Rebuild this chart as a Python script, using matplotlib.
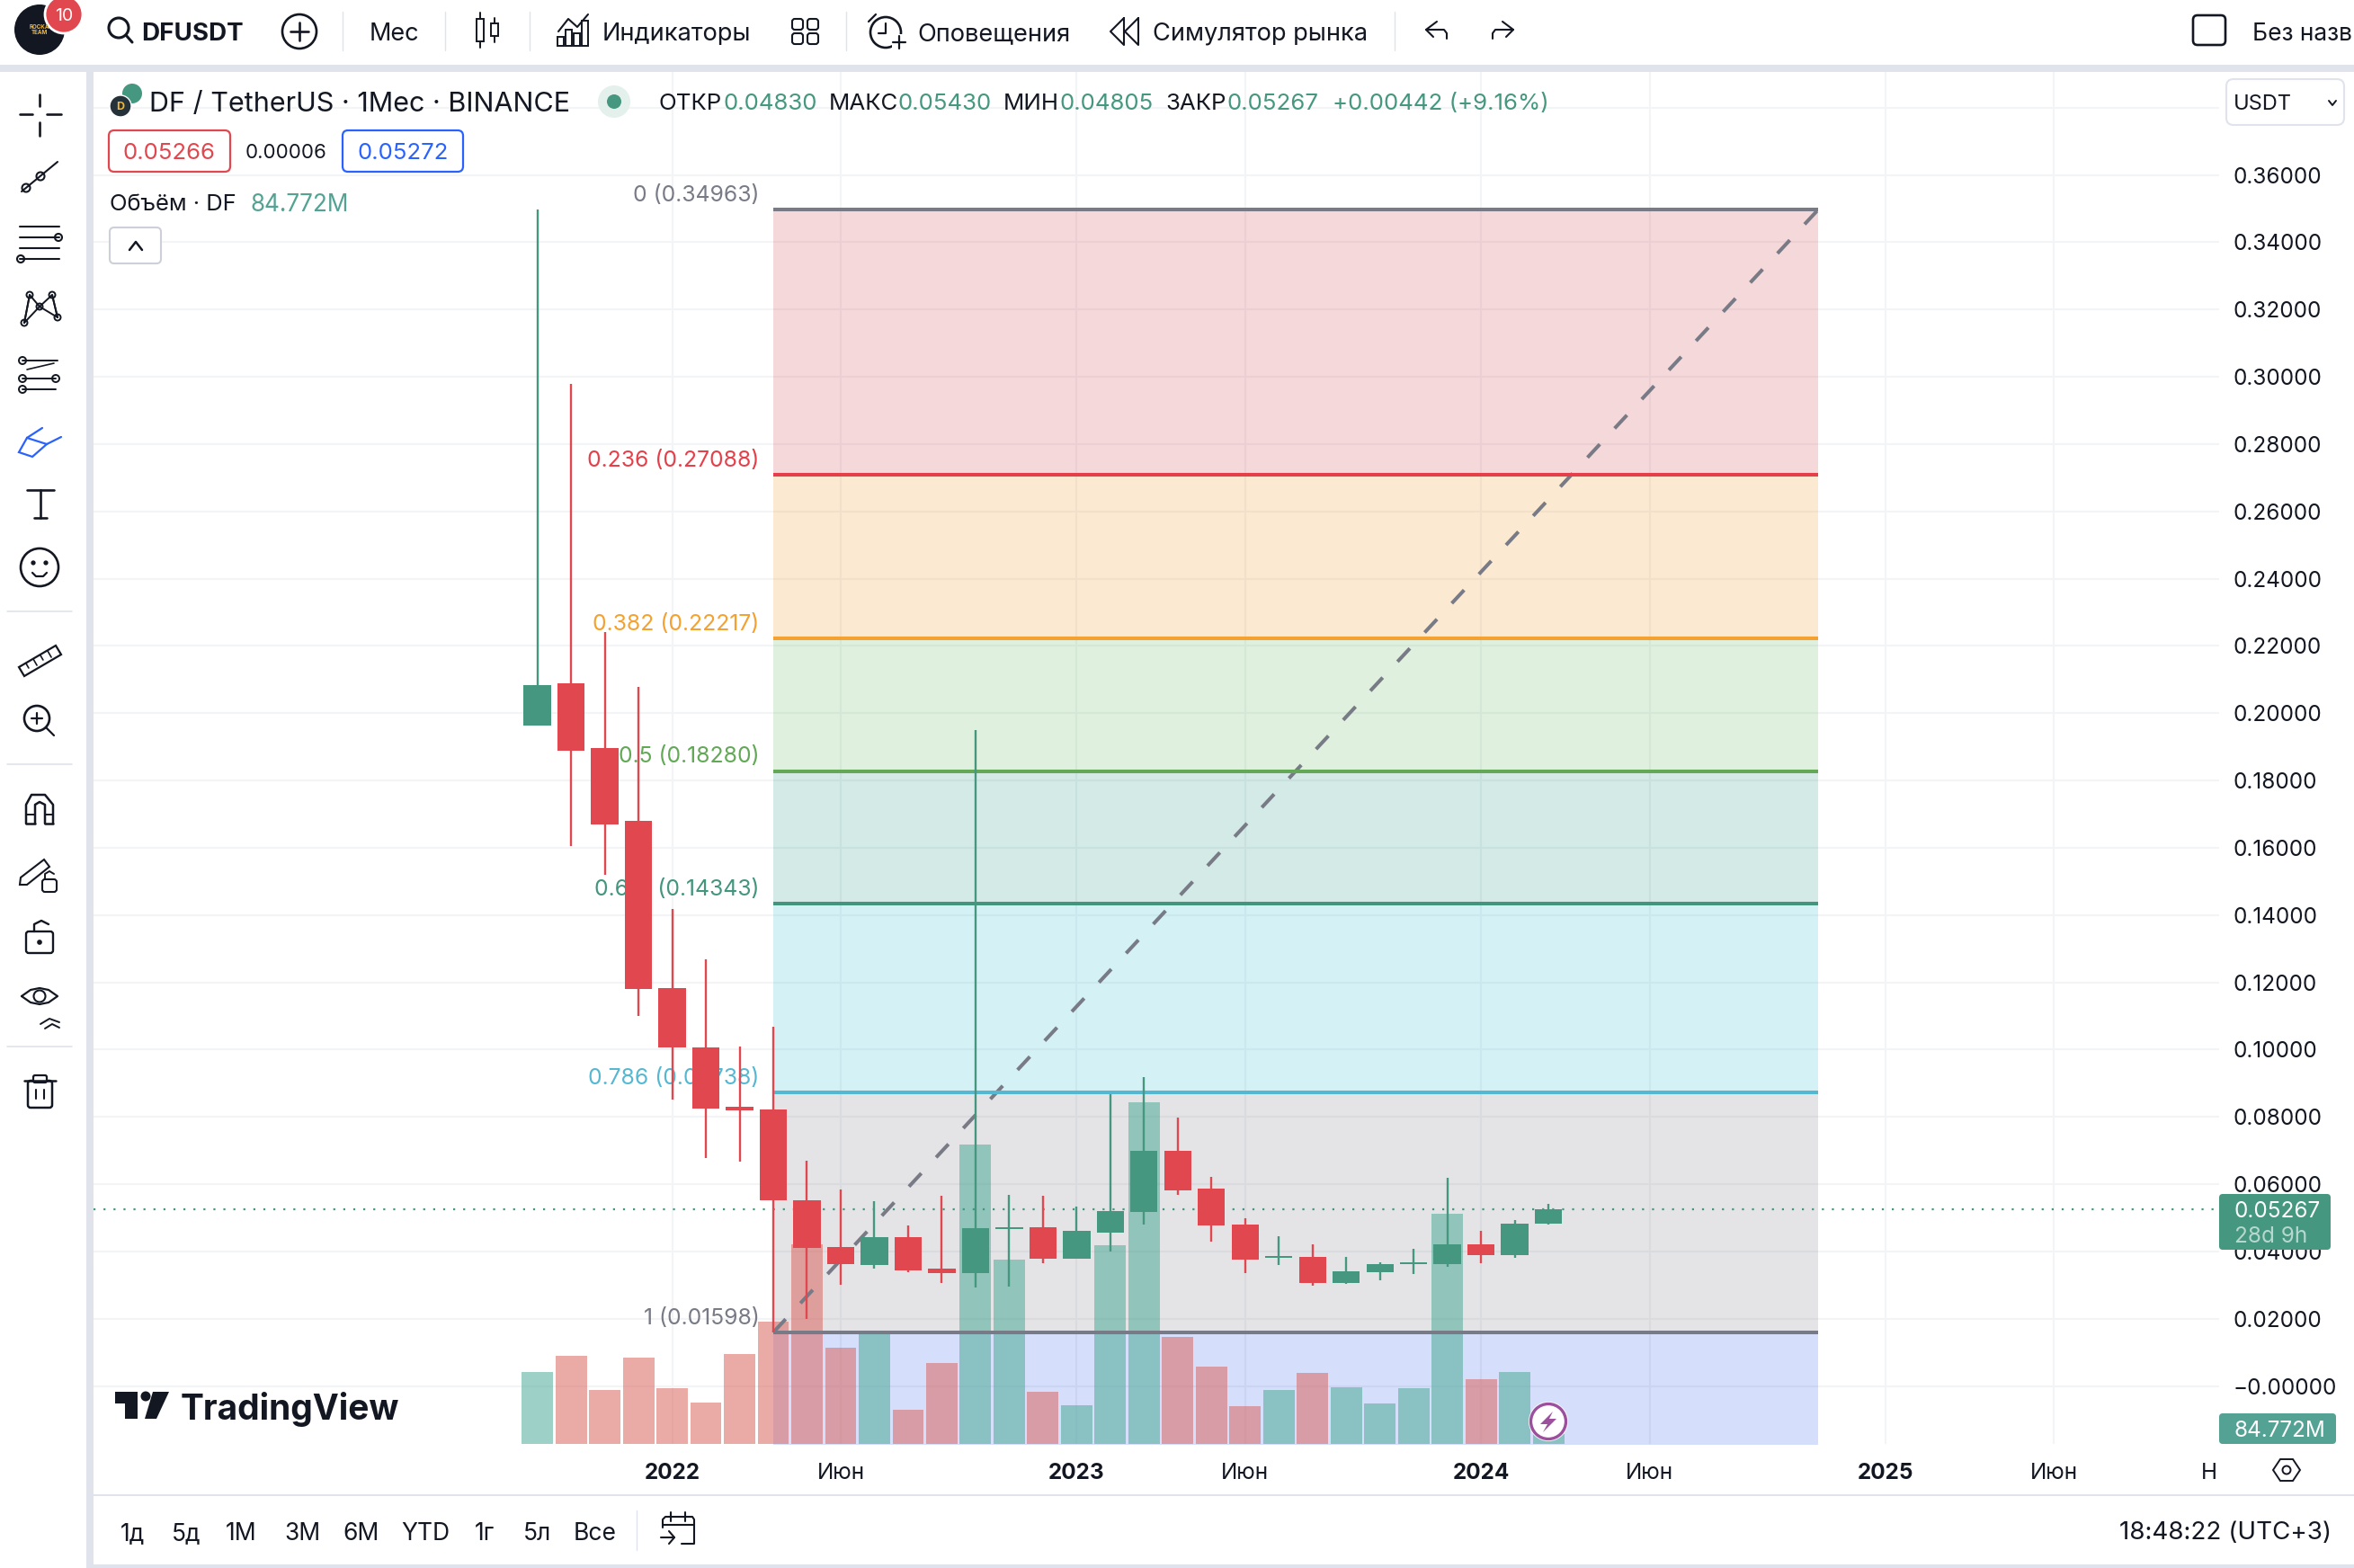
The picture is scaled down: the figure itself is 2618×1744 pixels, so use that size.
"""DFUSDT monthly chart with Fibonacci retracement, TradingView window."""
import matplotlib
matplotlib.use("Agg")
import matplotlib.pyplot as plt
from matplotlib.patches import Circle, FancyBboxPatch, Polygon, Rectangle

plt.rcParams["font.family"] = ["Inter", "DejaVu Sans"]

W, H = 2618, 1744
GREEN, RED = "#45977F", "#E0474F"
DARK, GREY = "#131722", "#787B86"

# monthly candles, first one is Sep 2021
opens = [.1964, .20891, .18967, .16803, .11831, .10068, .08304, .08223, .0553, .0414, .03613,
         .04434, .03493, .03359, .04669, .04728, .03787, .0457, .05177, .06994, .05872, .04803,
         .03814, .0384, .03073, .03386, .03627, .03627, .04215, .03894, .0483]
highs = [.34963, .29791, .22415, .20785, .14183, .12687, .10094, .10682, .067, .05845, .05497,
         .04776, .05658, .19502, .05685, .05658, .05337, .08686, .09186, .07983, .06219, .0499,
         .04455, .04215, .0384, .0368, .04081, .06192, .04616, .04936, .0543]
lows = [.1964, .16054, .15199, .11003, .08517, .0678, .06673, .01598, .02004, .02999, .03504,
        .03386, .03052, .02943, .02969, .03659, .03787, .04009, .04811, .05685, .04303, .03367,
        .03608, .02993, .03047, .03154, .03341, .03555, .03653, .03814, .04805]
closes = [.2084, .18887, .16695, .11805, .10068, .0825, .08197, .05524, .0411, .03627, .04434,
          .0344, .03359, .04701, .04733, .03787, .04616, .05203, .06994, .05826, .04784, .03768,
          .03867, .03073, .03413, .03627, .0368, .04215, .03894, .04829, .05267]
volumes_m = [616, 755, 462, 739, 477, 354, 770, 1047, 1709, 824, 947, 293, 693, 2564, 1579, 447,
             331, 1702, 2926, 916, 662, 323, 462, 608, 485, 347, 477, 1971, 554, 616, 84.772]

# fib levels: ratio, price, line colour, zone colour below the level
fib_ratios = ["0", "0.236", "0.382", "0.5", "0.618", "0.786", "1"]
fib_prices = [.34963, .27088, .22217, .18280, .14343, .08738, .01598]
fib_lines = [GREY, "#E5404A", "#F4A12F", "#62A857", "#43957E", "#55B8D0", GREY]
fib_zones = ["#CD3C46", "#F0911E", "#5FB45A", "#239682", "#28B9D2", GREY, "#2D5AE6"]
fib_floor = -0.19022
fib_start, fib_end = 7, 38

price_ticks = [i * 0.02 for i in range(20)]
time_ticks = [4, 9, 16, 21, 28, 33, 40, 45]
time_labels = ["2022", "Июн", "2023", "Июн", "2024", "Июн", "2025", "Июн"]

rect = [104 / W, 1 - 1606 / H, (2468 - 104) / W, (1606 - 80) / H]
xlim = (-13.17, 49.9)
ylim = (-0.01718, 0.3906)

fig = plt.figure(figsize=(W / 100, H / 100), dpi=100, facecolor="white")

# back layer: grid, zones, price and time scales
ax = fig.add_axes(rect, zorder=1)
ax.set_xlim(xlim); ax.set_ylim(ylim)
for s in ax.spines.values():
    s.set_visible(False)
ax.yaxis.tick_right()
ax.set_yticks(price_ticks)
ax.set_yticklabels(["−0.00000"] + [f"{v:.5f}" for v in price_ticks[1:19]] + [""])
ax.set_xticks(time_ticks)
ax.set_xticklabels(time_labels)
ax.tick_params(length=0, labelsize=17.5, labelcolor=DARK)
ax.tick_params(axis="y", pad=11)
ax.tick_params(axis="x", pad=15)
for lab in ax.get_xticklabels():
    if lab.get_text().startswith("20"):
        lab.set_fontweight("bold")
ax.grid(color="#F3F4F6", lw=1.5)
ax.set_axisbelow(True)
zone_edges = fib_prices + [fib_floor]
for i, col in enumerate(fib_zones):
    ax.fill_between([fib_start, fib_end], zone_edges[i + 1], zone_edges[i], color=col, alpha=0.2, lw=0)

# volume layer
axv = fig.add_axes(rect, zorder=2, sharex=ax)
axv.patch.set_alpha(0); axv.axis("off")
axv.set_ylim(0, 11750)
vol_cols = ["#4DAA97" if c >= o else "#DA665F" for o, c in zip(opens, closes)]
axv.bar(range(len(volumes_m)), volumes_m, width=0.93, color=vol_cols, alpha=0.55, lw=0)

# front layer: fib lines, labels, candles
axc = fig.add_axes(rect, zorder=3, sharex=ax, sharey=ax)
axc.patch.set_alpha(0); axc.axis("off")
axc.plot([fib_start, fib_end], [fib_prices[-1], fib_prices[0]], color=GREY, lw=2.9,
         ls=(0, (5, 6)), zorder=1)
for r, p, c in zip(fib_ratios, fib_prices, fib_lines):
    axc.hlines(p, fib_start, fib_end, color=c, lw=2.9, zorder=2)
    axc.annotate(f"{r} ({p:.5f})", (fib_start, p), xytext=(-11, 3), textcoords="offset points",
                 ha="right", va="bottom", color=c, fontsize=17.8, zorder=2)
axc.axhline(closes[-1], color=GREEN, lw=1.6, ls=(0, (1, 4)), zorder=3)
for i, (o, h, l, c) in enumerate(zip(opens, highs, lows, closes)):
    col = GREEN if c >= o else RED
    axc.vlines(i, l, h, color=col, lw=1.7, zorder=4)
    axc.bar(i, abs(c - o), bottom=min(o, c), width=0.81, color=col, lw=0, zorder=5)

# window chrome in pixel coordinates
ui = fig.add_axes([0, 0, 1, 1], zorder=10)
ui.set_xlim(0, W); ui.set_ylim(H, 0)
ui.axis("off")


def line(xs, ys, lw=1.9, color=DARK):
    ui.plot(xs, ys, color=color, lw=lw, solid_capstyle="round", solid_joinstyle="round")


def circ(x, y, r, lw=1.9, color=DARK, fill="white"):
    ui.add_patch(Circle((x, y), r, fc=fill, ec=color, lw=lw))


def box(x0, y0, x1, y1, fc="white", ec="none", lw=1.5, r=5):
    ui.add_patch(FancyBboxPatch((x0, y0), x1 - x0, y1 - y0, boxstyle=f"round,pad=0,rounding_size={r}",
                                fc=fc, ec=ec, lw=lw))


def label(x, y, s, size=18, color=DARK, ha="left", **kw):
    ui.text(x, y, s, fontsize=size, color=color, ha=ha, va="center_baseline", **kw)


BAND = "#E0E3EB"
ui.add_patch(Rectangle((0, 72), W, 8, fc=BAND, lw=0))
ui.add_patch(Rectangle((96, 72), 8, H - 72, fc=BAND, lw=0))
ui.add_patch(Rectangle((0, 1740), W, 4, fc=BAND, lw=0))
ui.add_patch(Rectangle((104, 1661.5), W - 104, 2.5, fc=BAND, lw=0))
ui.add_patch(Rectangle((0, 1740), 96, 4, fc="white", lw=0))

# top toolbar
circ(44, 33, 28, color="#131722", fill="#131722", lw=0)
label(44, 33, "ROCKA\nTEAM", 4.5, "#F5B82E", ha="center", fontweight="bold", linespacing=0.8)
circ(71, 16, 21, color="white", fill="#E0474F", lw=2)
label(71, 16, "10", 14, "white", ha="center")
circ(132, 31, 11, lw=2.2)
line([140, 147], [39, 47], 2.2)
label(157, 35, "DFUSDT", 20, fontweight="bold")
circ(333, 35, 19)
line([323, 343], [35, 35]); line([333, 333], [25, 45])
for x in [381, 495, 589, 941, 1551]:
    line([x, x], [13, 56], 1, "#E0E3EB")
label(411, 35, "Мес", 19.5)
for x, y0, y1, t, b in [(534, 21, 46, 14, 53), (550, 26, 40, 20, 47)]:
    ui.add_patch(Rectangle((x - 4, y0), 8, y1 - y0, fc="white", ec=DARK, lw=1.4))
    line([x, x], [t, y0], 1.4); line([x, x], [y1, b], 1.4)
line([621, 632, 642, 654], [35, 21, 30, 16], 1.5)
for x, h in [(623, 10), (632, 18), (641, 14), (650, 28)]:
    ui.add_patch(Rectangle((x - 3.5, 51 - h), 7, h, fc="white", ec=DARK, lw=1.4))
label(670, 35, "Индикаторы", 19.6)
for x in (887, 904):
    for y in (27, 43):
        box(x - 6, y - 6, x + 6, y + 6, ec=DARK, lw=1.5, r=3)
circ(985, 36, 17)
line([985, 985, 977], [26, 37, 37], 1.6)
line([966, 974], [24, 16], 1.6)
ui.add_patch(Rectangle((992, 38), 16, 16, fc="white", lw=0))
line([1000, 1000], [40, 54], 1.6); line([993, 1007], [47, 47], 1.6)
label(1020, 35, "Оповещения", 19.6)
line([1250, 1235, 1250, 1250], [20, 35, 50, 20], 1.5)
line([1266, 1251, 1266, 1266], [20, 35, 50, 20], 1.5)
label(1282, 35, "Симулятор рынка", 19.6)
line([1598, 1586, 1596, 1606, 1609, 1609], [24, 33, 33, 33, 37, 43], 1.5)
line([1586, 1594], [33, 41], 1.5)
line([1671, 1683, 1673, 1663, 1660, 1660], [24, 33, 33, 33, 37, 43], 1.5)
line([1683, 1675], [33, 41], 1.5)
box(2439, 17, 2475, 50, ec=DARK, lw=1.9, r=5)
label(2505, 35, "Без назв", 19)

# legend block
circ(147, 104, 11, color="#45977F", fill="#45977F", lw=0)
circ(134, 118, 12, color="white", fill="#26323A", lw=1)
label(134, 118, "D", 9, "#F5B82E", ha="center", fontweight="bold")
label(166, 113, "DF / TetherUS · 1Мес · BINANCE", 22)
circ(683, 113, 18, color="#E3F0EC", fill="#E3F0EC", lw=0)
circ(683, 113, 8, color=GREEN, fill=GREEN, lw=0)
for x, s, c in [(733, "ОТКР", DARK), (805, "0.04830", GREEN), (922, "МАКС", DARK), (999, "0.05430", GREEN),
                (1116, "МИН", DARK), (1179, "0.04805", GREEN), (1296, "ЗАКР", DARK), (1365, "0.05267", GREEN),
                (1482, "+0.00442 (+9.16%)", GREEN)]:
    label(x, 113, s, 18.6, c)
box(121, 145, 256, 191, ec=RED, lw=1.6, r=6)
label(188, 168, "0.05266", 18.5, RED, ha="center")
label(318, 168, "0.00006", 16, ha="center")
box(381, 145, 515, 191, ec="#2962FF", lw=1.6, r=6)
label(448, 168, "0.05272", 18.5, "#2962FF", ha="center")
label(122, 225, "Объём · DF", 18.4)
label(279, 225, "84.772M", 18.8, "#53A293")
box(122, 253, 179, 293, ec="#CDD0D8", lw=1.5, r=5)
line([144, 151, 158], [278, 269, 278], 1.8)
box(2476, 88, 2607, 139, ec=BAND, lw=1.5, r=8)
label(2484, 114, "USDT", 17)
line([2590, 2594, 2598], [112, 117, 112], 1.4)

# price labels on the scale
box(2468, 1328, 2592, 1390, fc=GREEN, r=4)
label(2485, 1345, "0.05267", 17.5, "white")
label(2485, 1373, "28d 9h", 17.5, "#B7D8CE")
box(2468, 1572, 2598, 1606, fc="#54A294", r=4)
label(2485, 1589, "84.772M", 17.5, "white")

# logo and status mark
ui.add_patch(Polygon([(128, 1548), (153, 1548), (153, 1578), (139, 1578), (139, 1561), (128, 1561)], fc=DARK, lw=0))
circ(162, 1553, 5.5, color=DARK, fill=DARK, lw=0)
ui.add_patch(Polygon([(170, 1548), (188, 1548), (174, 1578), (161, 1578)], fc=DARK, lw=0))
label(201, 1563, "TradingView", 28, fontweight="bold")
circ(1722, 1581, 22, color="white", fill="white", lw=0)
circ(1722, 1581, 19.5, color="#9C4F9C", fill="white", lw=2.4)
ui.add_patch(Polygon([(1727, 1570), (1713, 1584), (1721, 1584), (1716, 1593), (1731, 1578), (1723, 1578)], fc="#9C4F9C", lw=0))

# left toolbar
X = 44
line([X, X], [105, 118]); line([X, X], [136, 151]); line([22, 36], [127, 127]); line([52, 68], [127, 127])
line([24, 64], [213, 180], 1.5); circ(29, 209, 4.5, 1.5); circ(45, 196, 4.5, 1.5)
for y in (252, 264, 276, 288):
    line([22, 66], [y, y], 1.5)
circ(65, 264, 4, 1.5); circ(23, 288, 4, 1.5)
pts = [(27, 359), (33, 328), (44, 341), (58, 328), (64, 353)]
line([p[0] for p in pts], [p[1] for p in pts], 1.4)
line([27, 44, 64], [359, 341, 353], 1.4)
line([33, 27], [328, 359], 1.4); line([58, 64], [328, 353], 1.4)
for p in pts:
    circ(p[0], p[1], 3.5, 1.4)
line([25, 64], [401, 401], 1.4); line([25, 62], [421, 421], 1.4); line([25, 62], [433, 433], 1.4)
line([30, 60], [411, 404], 1.2)
circ(25, 401, 4, 1.4); circ(25, 421, 4, 1.4); circ(62, 421, 4, 1.4); circ(25, 433, 4, 1.4)
ui.add_patch(Polygon([(21, 503), (30, 487), (52, 494), (36, 508)], fc="white", ec="#2962FF", lw=1.6))
line([30, 47], [487, 476], 1.6, "#2962FF"); line([52, 68], [494, 486], 1.6, "#2962FF")
line([30, 60], [545, 545], 1.9); line([45, 45], [545, 576], 1.9); line([38, 52], [576, 576], 1.9)
circ(44, 631, 21)
circ(37, 626, 1.3, fill=DARK); circ(51, 626, 1.3, fill=DARK)
line([36, 40, 48, 52], [637, 641, 641, 637], 1.6)
for y in (680, 850, 1164):
    line([8, 80], [y, y], 1.2, BAND)
ui.add_patch(Polygon([(21, 742), (62, 718), (68, 728), (27, 752)], fc="white", ec=DARK, lw=1.6))
for x0, y0, n in [(29, 738, 5), (37, 733, 7), (45, 729, 5), (53, 724, 7)]:
    line([x0, x0 + n * 0.58], [y0, y0 + n], 1.2)
circ(41, 799, 14)
line([35, 47], [799, 799], 1.6); line([41, 41], [793, 805], 1.6); line([51, 60], [809, 818], 1.6)
line([29, 29, 35, 50, 59, 59], [916, 895, 884, 884, 895, 916], 1.8)
line([39, 39, 44, 50, 50], [916, 895, 892, 895, 916], 1.8)
line([29, 39], [906, 906], 1.4); line([50, 59], [906, 906], 1.4); line([29, 39], [916, 916], 1.8); line([50, 59], [916, 916], 1.8)
ui.add_patch(Polygon([(23, 976), (49, 956), (55, 964), (30, 984), (22, 984)], fc="white", ec=DARK, lw=1.5))
box(47, 978, 63, 992, ec=DARK, lw=1.5, r=3)
line([50, 50, 55, 60], [978, 972, 969, 972], 1.4)
box(29, 1036, 59, 1060, ec=DARK, lw=1.7, r=3)
line([38, 38, 46, 54], [1036, 1028, 1024, 1028], 1.7)
circ(44, 1048, 1.5, fill=DARK)
line([24, 34, 44, 54, 64, 54, 44, 34, 24], [1108, 1101, 1099, 1101, 1108, 1115, 1117, 1115, 1108], 1.6)
circ(44, 1108, 6.5, lw=1.5)
line([45, 55, 66], [1139, 1133, 1137], 1.4); line([50, 58, 66], [1144, 1139, 1143], 1.4)
box(31, 1202, 58, 1232, ec=DARK, lw=1.8, r=3)
line([27, 62], [1202, 1202], 1.8)
box(37, 1196, 52, 1204, ec=DARK, lw=1.6, r=2)
line([40, 40], [1212, 1222], 1.5); line([49, 49], [1212, 1222], 1.5)

# bottom bar and axis extras
label(2457, 1636, "Н", 17.5, ha="center")
ui.add_patch(Polygon([(2528, 1635), (2536, 1623), (2550, 1623), (2558, 1635), (2550, 1647), (2536, 1647)],
                     fc="white", ec=DARK, lw=1.4))
circ(2543, 1635, 4.5, lw=1.4)
for x, s in [(134, "1д"), (191, "5д"), (251, "1М"), (316, "3М"), (381, "6М"), (446, "YTD"),
             (528, "1г"), (582, "5л"), (638, "Все")]:
    label(x, 1703, s, 19)
line([708, 708], [1680, 1724], 1, BAND)
line([737, 737, 740, 770, 772, 772, 758], [1699, 1690, 1687, 1687, 1690, 1717, 1717], 1.5)
line([737, 772], [1696, 1696], 1.5)
line([746, 746], [1682, 1692], 1.5); line([762, 762], [1682, 1692], 1.5)
line([735, 750], [1710, 1710], 1.5); line([744, 750, 744], [1703, 1710, 1717], 1.5)
label(2593, 1702, "18:48:22 (UTC+3)", 20, ha="right")

fig.savefig("out.png", dpi=100)
